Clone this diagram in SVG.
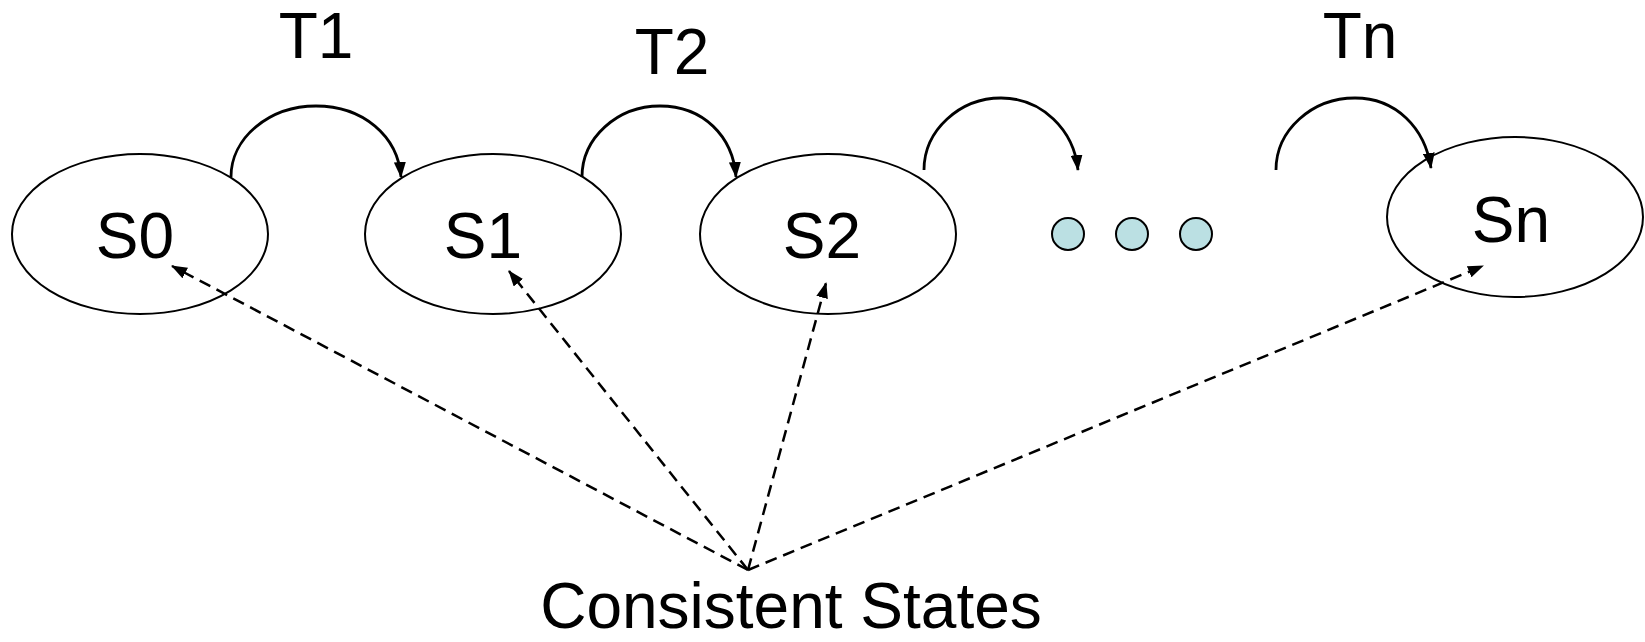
<svg xmlns="http://www.w3.org/2000/svg" width="1645" height="642" viewBox="0 0 1645 642">
<style>
.st{fill:#fff;stroke:#000;stroke-width:2}
.lbl{font-family:"Liberation Sans",Arial,sans-serif;font-size:64px;fill:#000;text-anchor:middle}
.arc{fill:none;stroke:#000;stroke-width:2.8}
.dash{fill:none;stroke:#000;stroke-width:2.5;stroke-dasharray:12 7}
.dot{fill:#BBE0E3;stroke:#000;stroke-width:2}
</style>
<defs>
<marker id="ah" markerWidth="16" markerHeight="12" refX="15" refY="6" orient="auto" markerUnits="userSpaceOnUse">
<path d="M0,0 L16,6 L0,12 Z" fill="#000"/>
</marker>
</defs>
<rect width="1645" height="642" fill="#fff"/>
<g id="S0"><ellipse class="st" cx="140" cy="234" rx="128" ry="80"/><text class="lbl" x="135" y="258">S0</text></g>
<g id="S1"><ellipse class="st" cx="493" cy="234" rx="128" ry="80"/><text class="lbl" x="483" y="258">S1</text></g>
<g id="S2"><ellipse class="st" cx="828" cy="234" rx="128" ry="80"/><text class="lbl" x="822" y="258">S2</text></g>
<g id="Sn"><ellipse class="st" cx="1515" cy="217" rx="128" ry="80"/><text class="lbl" x="1511" y="242">Sn</text></g>
<g id="dots">
<circle class="dot" cx="1068" cy="234" r="16"/>
<circle class="dot" cx="1132" cy="234" r="16"/>
<circle class="dot" cx="1196" cy="234" r="16"/>
</g>
<g id="labels">
<text class="lbl" x="316" y="58">T1</text>
<text class="lbl" x="672" y="74">T2</text>
<text class="lbl" x="1360" y="58">Tn</text>
<text class="lbl" x="791" y="628">Consistent States</text>
</g>
<g id="connectors">
<path class="arc" d="M231,177 C231,138 269,106 316,106 C363,106 398,136 401,177" marker-end="url(#ah)"/>
<path class="arc" d="M582,177 C582,138 617,106 660,106 C703,106 733,136 736,177" marker-end="url(#ah)"/>
<path class="arc" d="M924,170 C924,130 960,98 1001,98 C1042,98 1074,130 1078,170" marker-end="url(#ah)"/>
<path class="arc" d="M1276,170 C1276,130 1312,98 1355,98 C1396,98 1425,128 1431,168" marker-end="url(#ah)"/>
<path class="dash" d="M748,570 L172,266" marker-end="url(#ah)"/>
<path class="dash" d="M748,570 L509,271" marker-end="url(#ah)"/>
<path class="dash" d="M748,570 L826,283" marker-end="url(#ah)"/>
<path class="dash" d="M748,570 L1483,266" marker-end="url(#ah)"/>
</g>
</svg>
